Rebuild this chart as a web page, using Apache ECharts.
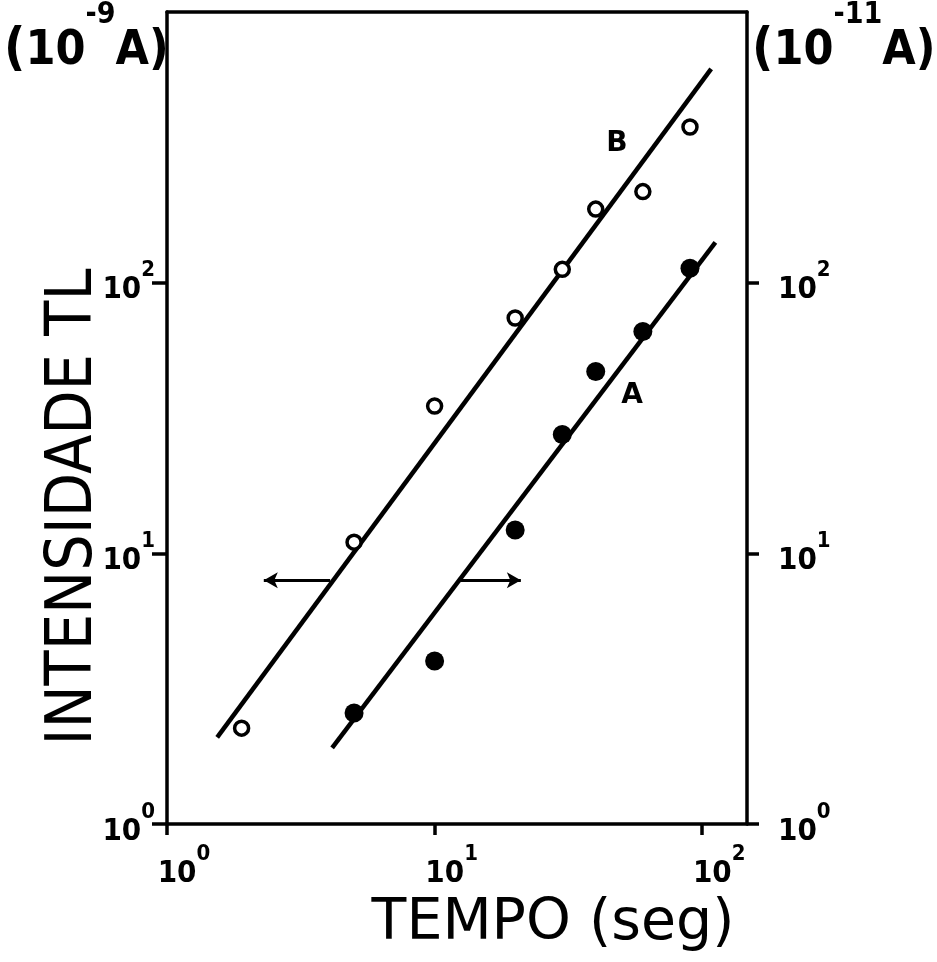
<!DOCTYPE html>
<html><head><meta charset="utf-8">
<script src="https://cdn.jsdelivr.net/npm/echarts@6/dist/echarts.min.js"></script>
<style>html,body{margin:0;padding:0;background:#fff}#c{width:937px;height:962px}</style>
</head><body><div id="c"></div>
<script>
// ---- data ----
const timeB = [1.9, 5, 10, 20, 30, 40, 60, 90];
const intB  = [2.26, 11, 35, 74, 112, 187, 217, 376];
const timeA = [5, 10, 20, 30, 40, 60, 90];
const intA  = [2.57, 4.0, 12.2, 27.5, 47, 66, 113];
const fitBx = [1.54, 108];
const fitBy = [2.09, 616];
const fitAx = [4.14, 112];
const fitAy = [1.91, 141];
const arrowLeftX = [4.07, 2.3];
const arrowRightX = [12.5, 21];
const arrowY = 7.95;
const tickValues = [1, 10, 100];
const tickExponents = ['0', '1', '2'];
const labelB = [48, 326];
const labelA = [54.7, 38.3];

const FONT = 'DejaVu Sans';
const CFONT = 'DejaVu Sans Condensed';
function expLabel(v) {
  const i = tickValues.indexOf(v);
  if (i < 0) return '';
  return '{b|10}{s|' + tickExponents[i] + '}';
}
const labelRich = {
  b: {fontSize: 31, fontWeight: 'bold', fontFamily: CFONT, color: '#000', lineHeight: 46, verticalAlign: 'bottom'},
  s: {fontSize: 22, fontWeight: 'bold', fontFamily: CFONT, color: '#000', lineHeight: 20, verticalAlign: 'top'}
};
const axisLineStyle = {color: '#000', width: 3.5};
const titleRich = {
  p: {fontSize: 52, fontWeight: 'bold', fontFamily: CFONT, fill: '#000', lineHeight: 76, verticalAlign: 'bottom'},
  b: {fontSize: 48, fontWeight: 'bold', fontFamily: CFONT, fill: '#000', lineHeight: 76, verticalAlign: 'bottom'},
  s: {fontSize: 30, fontWeight: 'bold', fontFamily: CFONT, fill: '#000', lineHeight: 30, verticalAlign: 'top'}
};

const chart = echarts.init(document.getElementById('c'), null, {renderer: 'canvas'});
chart.setOption({
  backgroundColor: '#fff',
  animation: false,
  grid: {left: 167, right: 190, top: 12, bottom: 138, outerBoundsMode: 'none', containLabel: false},
  xAxis: [{
    type: 'log', logBase: 10, min: 1, max: 147, position: 'bottom',
    axisLine: {show: true, lineStyle: axisLineStyle},
    axisTick: {show: true, length: 11, lineStyle: axisLineStyle, customValues: tickValues},
    minorTick: {show: false}, splitLine: {show: false},
    axisLabel: {show: true, customValues: tickValues, formatter: expLabel, rich: labelRich, margin: 19, align: 'center', padding: [0, 0, 0, 34]}
  }, {
    type: 'log', logBase: 10, min: 1, max: 147, position: 'top',
    axisLine: {show: true, lineStyle: axisLineStyle},
    axisTick: {show: false}, axisLabel: {show: false}, splitLine: {show: false}
  }],
  yAxis: [{
    type: 'log', logBase: 10, min: 1, max: 1000, position: 'left',
    axisLine: {show: true, lineStyle: axisLineStyle},
    axisTick: {show: true, length: 15, lineStyle: axisLineStyle, customValues: tickValues},
    splitLine: {show: false},
    axisLabel: {show: true, customValues: tickValues, formatter: expLabel, rich: labelRich, margin: 12}
  }, {
    type: 'log', logBase: 10, min: 1, max: 1000, position: 'right',
    axisLine: {show: true, lineStyle: axisLineStyle},
    axisTick: {show: true, length: 12, lineStyle: axisLineStyle, customValues: tickValues},
    splitLine: {show: false},
    axisLabel: {show: true, customValues: tickValues, formatter: expLabel, rich: labelRich, margin: 31}
  }],
  series: [
    {
      type: 'line', name: 'fitB', data: fitBx.map((x, i) => [x, fitBy[i]]),
      symbol: 'none', lineStyle: {color: '#000', width: 4.5}, z: 2,
      markLine: {
        silent: true, symbol: ['none', 'arrow'], symbolSize: [12, 14],
        lineStyle: {color: '#000', width: 3, type: 'solid'}, label: {show: false},
        data: [[{coord: [arrowLeftX[0], arrowY]}, {coord: [arrowLeftX[1], arrowY]}]]
      }
    },
    {
      type: 'line', name: 'fitA', data: fitAx.map((x, i) => [x, fitAy[i]]),
      symbol: 'none', lineStyle: {color: '#000', width: 4.5}, z: 2,
      markLine: {
        silent: true, symbol: ['none', 'arrow'], symbolSize: [12, 14],
        lineStyle: {color: '#000', width: 3, type: 'solid'}, label: {show: false},
        data: [[{coord: [arrowRightX[0], arrowY]}, {coord: [arrowRightX[1], arrowY]}]]
      }
    },
    {
      type: 'scatter', name: 'B', data: timeB.map((x, i) => [x, intB[i]]),
      symbol: 'circle', symbolSize: 14, z: 3,
      itemStyle: {color: '#fff', borderColor: '#000', borderWidth: 3.5, opacity: 1}
    },
    {
      type: 'scatter', name: 'A', data: timeA.map((x, i) => [x, intA[i]]),
      symbol: 'circle', symbolSize: 19, z: 3,
      itemStyle: {color: '#000', opacity: 1}
    },
    {
      type: 'scatter', name: 'labels', symbolSize: 0, z: 4,
      itemStyle: {opacity: 1},
      data: [
        {value: labelB, label: {formatter: 'B'}},
        {value: labelA, label: {formatter: 'A'}}
      ],
      label: {show: true, position: 'inside', fontSize: 28, fontWeight: 'bold', fontFamily: FONT, color: '#000'}
    }
  ],
  graphic: [
    {
      type: 'text', left: 4, top: 0, z: 10,
      style: {text: '{p|(}{b|10}{s|-9}{b|A)}', rich: titleRich}
    },
    {
      type: 'text', left: 752, top: 0, z: 10,
      style: {text: '{p|(}{b|10}{s|-11}{b|A)}', rich: titleRich}
    },
    {
      type: 'text', x: 74, y: 507, rotation: Math.PI / 2, z: 10,
      style: {
        text: 'INTENSIDADE TL', fontSize: 64, fontFamily: CFONT,
        fill: '#000', align: 'center', verticalAlign: 'middle'
      }
    },
    {
      type: 'text', x: 553, y: 924, z: 10,
      style: {
        text: 'TEMPO (seg)', fontSize: 57, fontFamily: FONT,
        fill: '#000', align: 'center', verticalAlign: 'middle'
      }
    }
  ]
});
</script></body></html>
